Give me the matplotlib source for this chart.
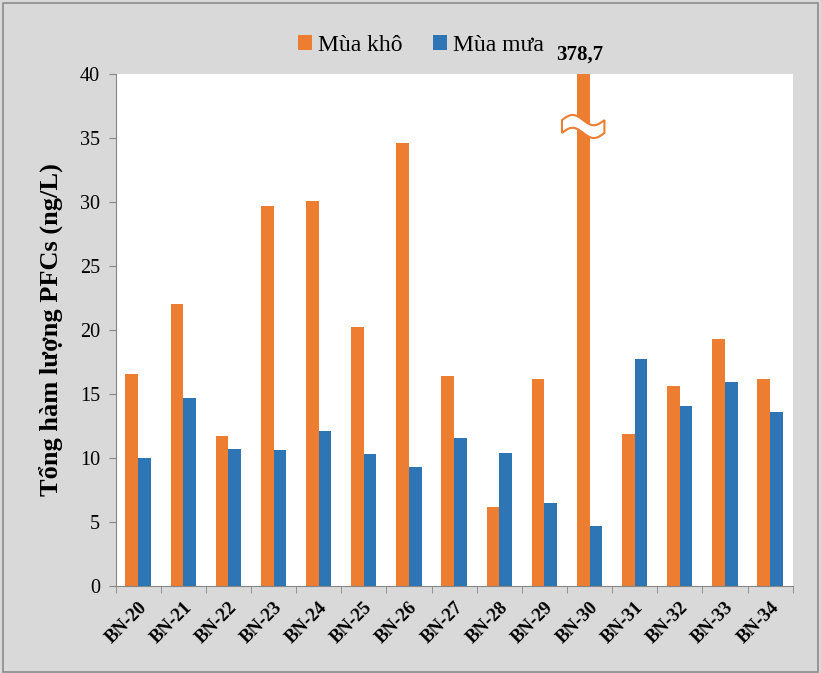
import matplotlib.pyplot as plt
import numpy as np
from matplotlib.patches import Polygon, Rectangle

plt.rcParams['font.family'] = 'serif'
plt.rcParams['font.serif'] = ['Liberation Serif', 'DejaVu Serif']

# Sampling sites and total PFC concentrations (ng/L)
sites = ['BN-20', 'BN-21', 'BN-22', 'BN-23', 'BN-24', 'BN-25', 'BN-26', 'BN-27',
         'BN-28', 'BN-29', 'BN-30', 'BN-31', 'BN-32', 'BN-33', 'BN-34']
dry_season = [16.6, 22.0, 11.7, 29.7, 30.1, 20.2, 34.6, 16.4,
              6.2, 16.2, 378.7, 11.9, 15.6, 19.3, 16.2]
wet_season = [10.0, 14.7, 10.7, 10.6, 12.1, 10.3, 9.3, 11.6,
              10.4, 6.5, 4.7, 17.7, 14.1, 15.9, 13.6]

orange = '#ED7D31'
blue = '#2E75B6'
gray = '#868686'
ymax = 40

fig = plt.figure(figsize=(8.21, 6.73), dpi=100, facecolor='#D9D9D9')
fig.patches.append(Rectangle((0.004, 0.002), 0.992, 0.993, transform=fig.transFigure,
                             fill=False, edgecolor='#8C8C8C', lw=1.2))
ax = fig.add_axes([0.1407, 0.1293, 0.8248, 0.7607])
ax.set_facecolor('white')

x = np.arange(len(sites))
w = 0.28
ax.bar(x - w / 2, dry_season, w, color=orange, label='Mùa khô')
ax.bar(x + w / 2, wet_season, w, color=blue, label='Mùa mưa')

ax.set_xlim(-0.5, len(sites) - 0.5)
ax.set_ylim(0, ymax)
ax.set_yticks(range(0, 41, 5))
ax.tick_params(axis='y', direction='out', length=5, color=gray, labelsize=14.5, pad=6)

ax.set_xticks(x)
ax.set_xticklabels(sites, rotation=45, ha='right', rotation_mode='anchor',
                   fontsize=13.5, fontweight='bold')
ax.tick_params(axis='x', which='major', length=0, pad=9)
ax.set_xticks(np.arange(-0.5, len(sites), 1), minor=True)
ax.tick_params(axis='x', which='minor', direction='out', length=5, color=gray)

for side in ['top', 'right']:
    ax.spines[side].set_visible(False)
for side in ['left', 'bottom']:
    ax.spines[side].set_color(gray)

ax.set_ylabel('Tổng hàm lượng PFCs (ng/L)', fontsize=19, fontweight='bold', labelpad=12)

# Off-scale bar: value above the axis and a break symbol
for i, v in enumerate(dry_season):
    if v > ymax:
        xc = x[i] - w / 2
        ax.text(xc - 0.07, ymax + 1.1, f'{v:.1f}'.replace('.', ','), ha='center',
                va='baseline', fontsize=15, fontweight='bold', clip_on=False)
        t = np.linspace(0, 1, 40)
        bx = xc - 0.47 + 0.94 * t
        wave = 0.4 * np.sin(2 * np.pi * t)
        yc = 35.9
        top = yc + 0.5 + wave
        bot = yc - 0.5 + wave
        pts = np.vstack([np.column_stack([bx, top]),
                         np.column_stack([bx[::-1], bot[::-1]])])
        ax.add_patch(Polygon(pts, closed=True, facecolor='white',
                             edgecolor=orange, lw=1.5, zorder=5))

fig.legend(loc='upper center', bbox_to_anchor=(0.513, 0.98), ncol=2, frameon=False,
           fontsize=17, handlelength=0.6, handleheight=0.6, handletextpad=0.25,
           columnspacing=1.3)

fig.savefig('out.png', dpi=100, facecolor=fig.get_facecolor())
